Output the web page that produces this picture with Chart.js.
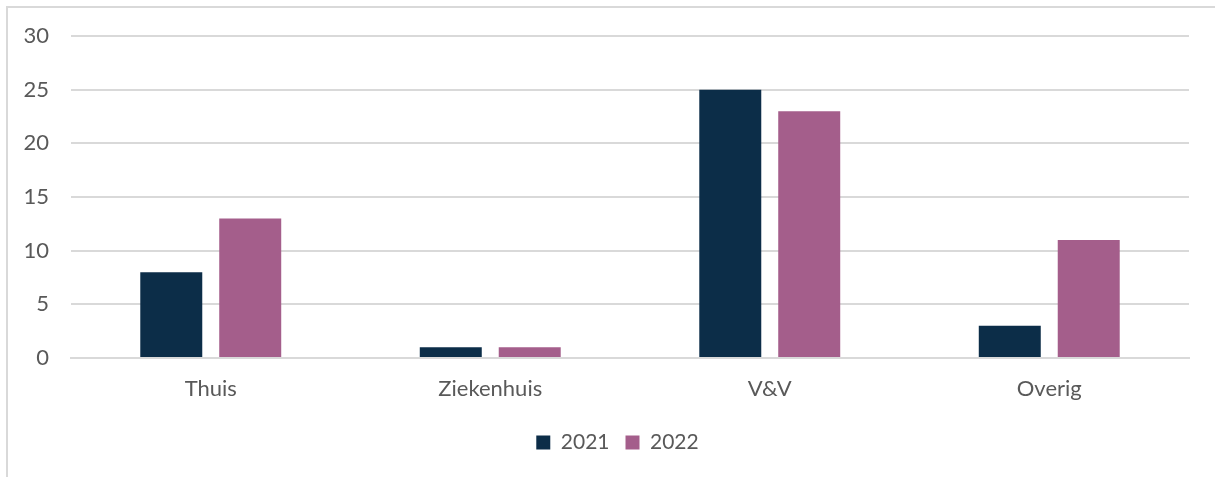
<!DOCTYPE html>
<html><head><meta charset="utf-8">
<script src="https://cdn.jsdelivr.net/npm/chart.js@4"></script>
<style>
html,body{margin:0;padding:0;background:#fff;}
#wrap{position:relative;width:1215px;height:477px;overflow:hidden;}
#frame{position:absolute;left:6px;top:6px;width:1300px;height:600px;border-left:2px solid #d9d9d9;border-top:2px solid #d9d9d9;}
canvas{position:absolute;left:0;top:0;}
</style></head><body>
<div id="wrap"><div id="frame"></div><canvas id="c" width="1215" height="477"></canvas></div>
<script>
const categories = ["Thuis", "Ziekenhuis", "V&V", "Overig"];
const values2021 = [8, 1, 25, 3];
const values2022 = [13, 1, 23, 11];
const seriesLabels = ["2021", "2022"];
const yTicks = [0, 5, 10, 15, 20, 25, 30];

const FONT = "Lato, 'Open Sans', sans-serif";
const legendShift = {
  id: 'legendShift',
  afterLayout(chart) {
    if (chart.legend) { chart.legend.left += 23; chart.legend.right += 23; }
  }
};
new Chart(document.getElementById('c'), {
  type: 'bar',
  data: {
    labels: categories,
    datasets: [
      {label: seriesLabels[0], data: values2021, backgroundColor: '#0C2D48', categoryPercentage: 0.565, barPercentage: 0.785},
      {label: seriesLabels[1], data: values2022, backgroundColor: '#A45E8B', categoryPercentage: 0.565, barPercentage: 0.785}
    ]
  },
  plugins: [legendShift],
  options: {
    responsive: false,
    animation: false,
    layout: {padding: {top: 36, right: 26, left: 0, bottom: 14}},
    plugins: {
      legend: {
        position: 'bottom',
        labels: {boxWidth: 14, boxHeight: 14, color: '#595959', font: {family: FONT, size: 21}, padding: 16}
      },
      tooltip: {enabled: false}
    },
    scales: {
      x: {
        grid: {display: false, drawTicks: false},
        border: {color: '#d9d9d9', width: 2},
        ticks: {color: '#595959', font: {family: FONT, size: 22}, padding: 18},
        afterFit: s => { s.height = 58; }
      },
      y: {
        min: 0, max: 30,
        afterBuildTicks: s => { s.ticks = yTicks.map(v => ({value: v})); },
        grid: {color: '#d9d9d9', lineWidth: 2, drawTicks: false},
        border: {display: false},
        ticks: {color: '#595959', font: {family: FONT, size: 22}, padding: 22},
        afterFit: s => { s.width = 71; }
      }
    }
  }
});
</script>
</body></html>
